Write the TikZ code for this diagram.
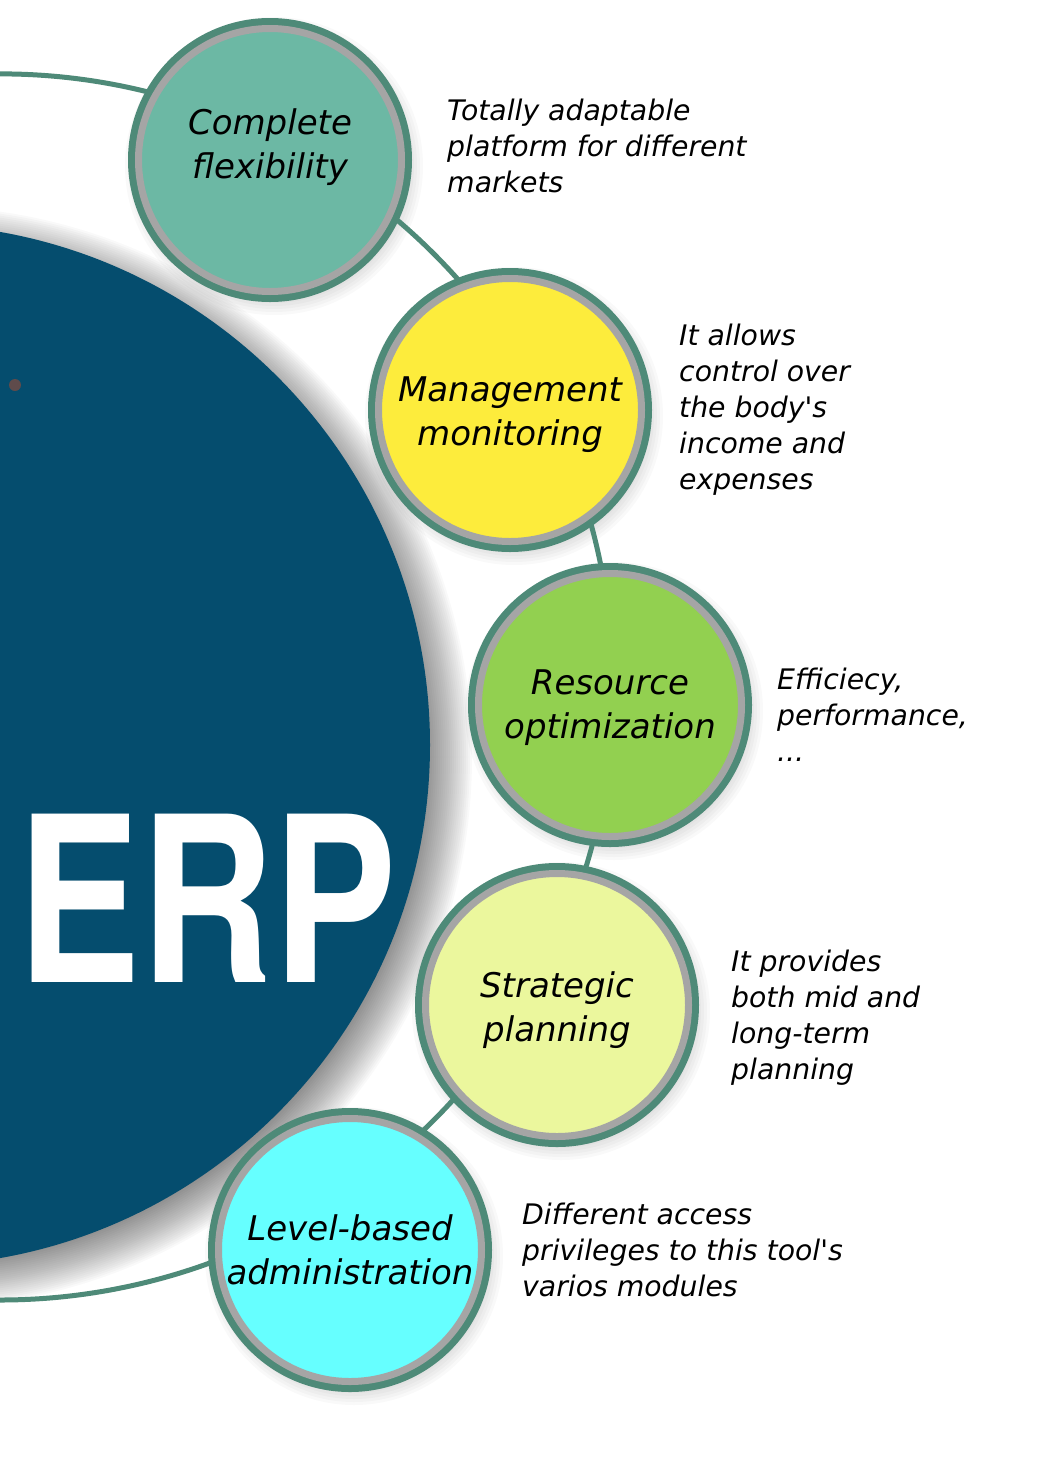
\documentclass[tikz,border=0pt]{standalone}
\usepackage{fontspec}
\setmainfont{DejaVu Sans}
\newfontfamily\erpfont{texgyreheros-bold.otf}
\usetikzlibrary{positioning, calc}
\definecolor{erpblue}{RGB}{5,77,110}
\definecolor{ringteal}{RGB}{78,138,120}
\definecolor{ringgray}{RGB}{165,165,165}
\definecolor{flexfill}{RGB}{108,184,164}
\definecolor{monitfill}{RGB}{253,236,60}
\definecolor{optimfill}{RGB}{146,208,80}
\definecolor{planfill}{RGB}{235,247,157}
\definecolor{adminfill}{RGB}{102,255,255}
\definecolor{dotgray}{RGB}{95,75,75}
\tikzset{
  bubble/.style={circle, draw=ringgray, line width=7, minimum size=263,
    inner sep=0, preaction={draw=ringteal, line width=21}},
  bubtext/.style={font=\fontsize{34}{44}\selectfont\itshape, align=center},
  desc/.style={font=\fontsize{28.3}{36}\selectfont\itshape, align=left,
    anchor=north west, inner sep=0},
  ring/.style={ringteal, line width=5}
}
\begin{document}
\begin{tikzpicture}[x=1pt, y=-1pt]
  \clip (0,0) rectangle (1044,1478);

  % Centres
  \coordinate (erp) at (-91,745);
  \coordinate (hub) at (0,687);
  \coordinate (cflex) at (270,160);
  \coordinate (cmonit) at (510,410);
  \coordinate (coptim) at (610,705);
  \coordinate (cplan) at (557,1005);
  \coordinate (cadmin) at (350,1250);

  % ERP disc with its shadow
  \foreach \r in {-20,-18,...,30}
    \fill[black, opacity=0.025] ([shift={(12,12)}]erp) circle[radius=521+\r];
  \fill[erpblue] (erp) circle[radius=521];
  \node[font=\erpfont\fontsize{231}{231}\selectfont, text=white,
    anchor=base, inner sep=0] (erptext) at (207,982) {\scalebox{0.8}[1]{ERP}};
  \fill[dotgray] (15,385) circle[radius=6];

  % Soft shadows of the bubbles
  \foreach \c in {cflex,cmonit,coptim,cplan,cadmin}
    \foreach \r in {134,137,...,149}
      \fill[black, opacity=0.022] ([shift={(4,6)}]\c) circle[radius=\r];

  % Ring
  \draw[ring] (hub) ++(-100:613) arc[start angle=-100, end angle=100, radius=613];

  % Bubbles
  \node[bubble, fill=flexfill, label={[bubtext, yshift=13]center:Complete\\flexibility}] (flex) at (cflex) {};
  \node[bubble, fill=monitfill, label={[bubtext, yshift=-5]center:Management\\monitoring}] (monit) at (cmonit) {};
  \node[bubble, fill=optimfill, label={[bubtext, yshift=-3]center:Resource\\optimization}] (optim) at (coptim) {};
  \node[bubble, fill=planfill, label={[bubtext, yshift=-5]center:Strategic\\planning}] (plan) at (cplan) {};
  \node[bubble, fill=adminfill, label={[bubtext]center:Level-based\\administration}] (admin) at (cadmin) {};

  % Descriptions
  \node[desc] (dflex) at (447,99) {Totally adaptable\\platform for different\\markets};
  \node[desc] (dmonit) at (679,324) {It allows\\control over\\the body\textquotesingle s\\income and\\expenses};
  \node[desc] (doptim) at (777,668) {Efficiecy,\\performance,\\...};
  \node[desc] (dplan) at (731,950) {It provides\\both mid and\\long-term\\planning};
  \node[desc] (dadmin) at (522,1203) {Different access\\privileges to this tool\textquotesingle s\\varios modules};
\end{tikzpicture}
\end{document}
